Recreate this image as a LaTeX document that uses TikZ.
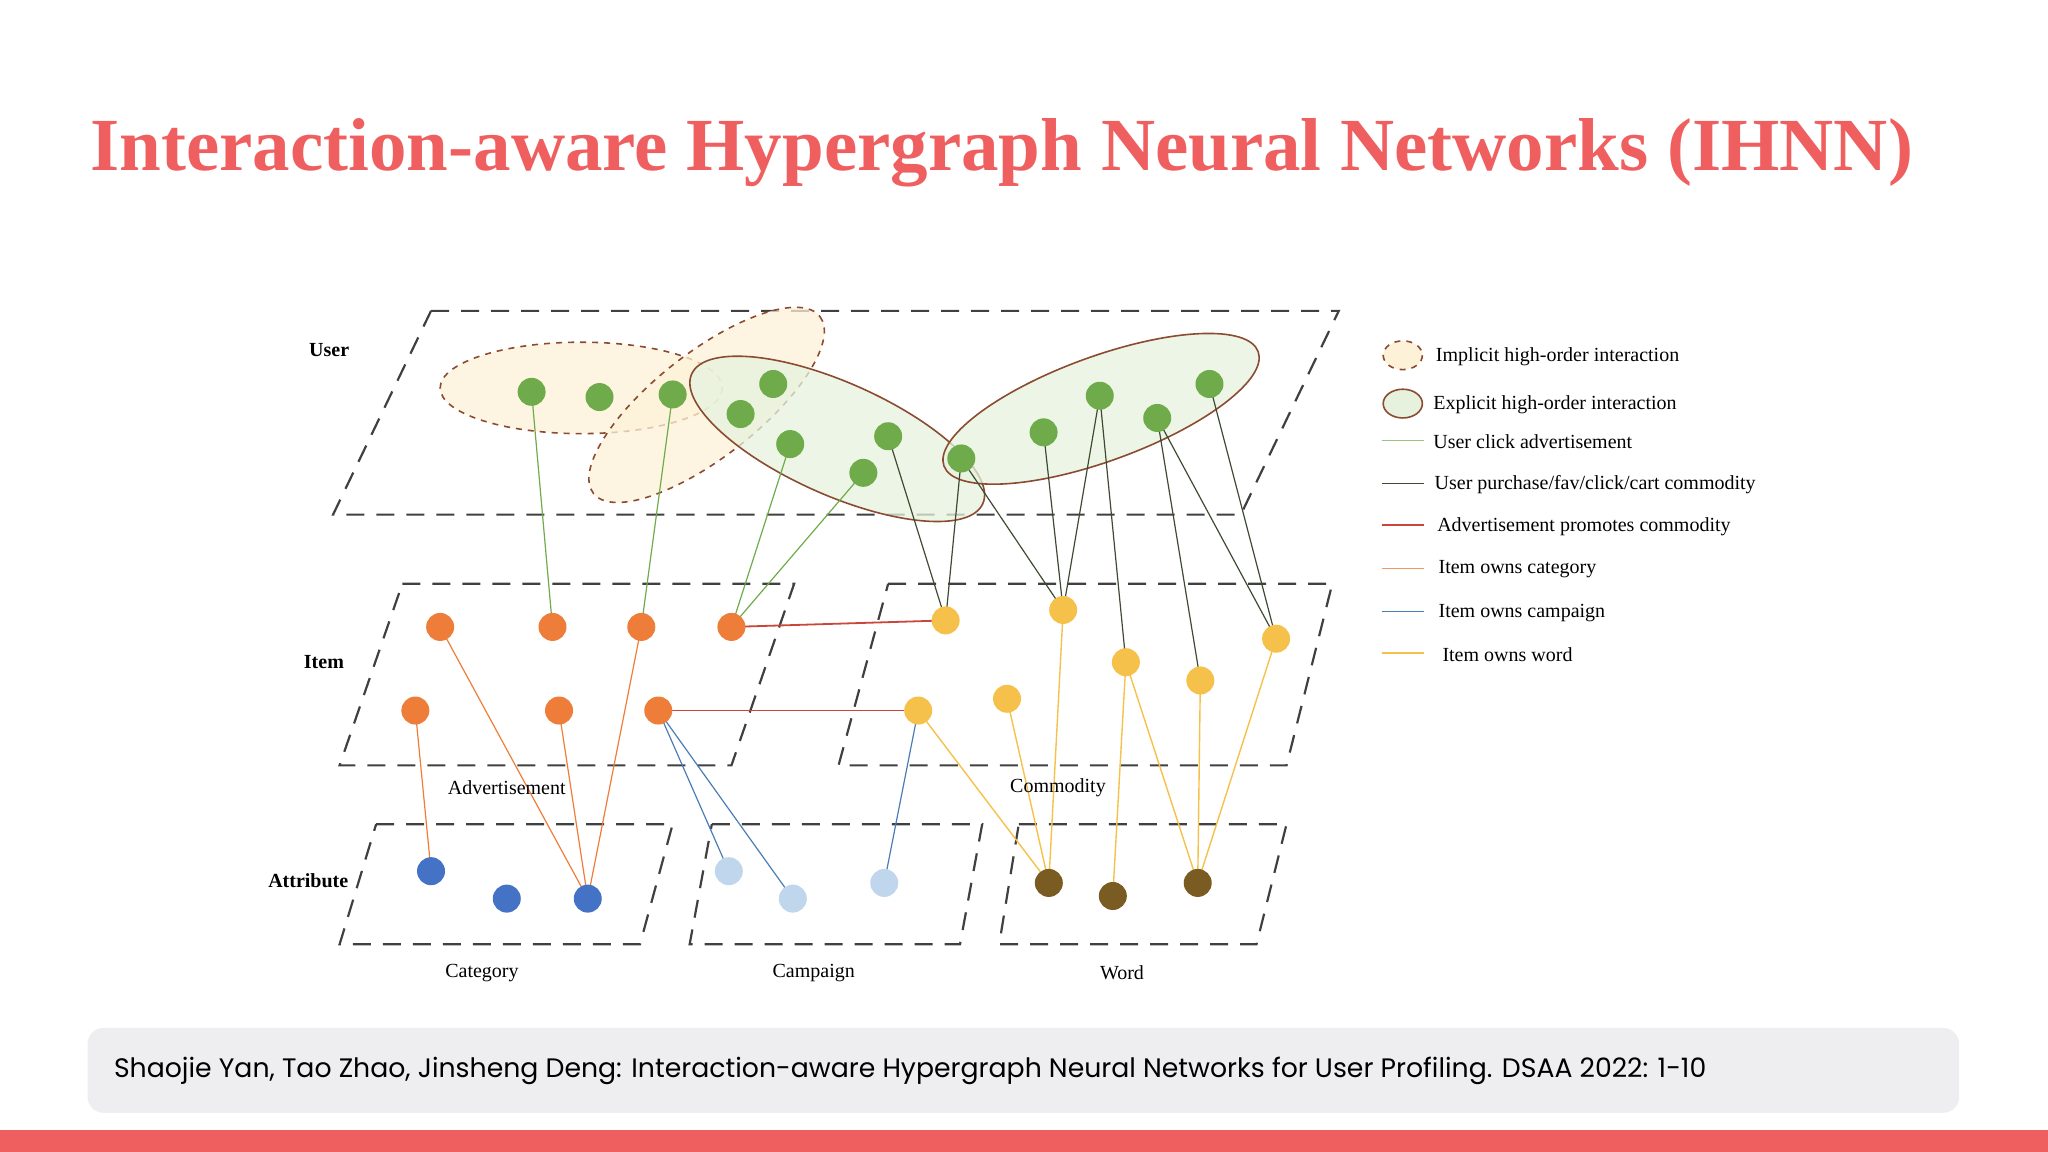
\documentclass[tikz,border=0pt]{standalone}
\usepackage{fontspec}
\setmainfont{Liberation Serif}
\newfontfamily\popp{Poppins}
\usetikzlibrary{shapes.geometric}
\pgfdeclarelayer{back}\pgfdeclarelayer{edges}
\pgfsetlayers{back,edges,main}
\definecolor{coral}{HTML}{F05F5F}
\definecolor{cgreen}{HTML}{6FAB4A}
\definecolor{corange}{HTML}{EE7D3A}
\definecolor{cyellow}{HTML}{F5C14A}
\definecolor{cblue}{HTML}{4472C4}
\definecolor{clblue}{HTML}{BFD6EC}
\definecolor{cbrown}{HTML}{7A5C22}
\definecolor{edkgreen}{HTML}{3E4B32}
\definecolor{ered}{HTML}{C8463A}
\definecolor{eblue}{HTML}{4A7DB5}
\definecolor{impfill}{HTML}{FDF2D8}
\definecolor{expfill}{HTML}{E6F2DE}
\definecolor{hbrown}{HTML}{8A4B30}
\definecolor{footg}{HTML}{EEEDF0}
\tikzset{
 dot/.style={circle,inner sep=0pt,minimum size=14pt},
 gn/.style={dot,fill=cgreen},
 on/.style={dot,fill=corange},
 yn/.style={dot,fill=cyellow},
 bn/.style={dot,fill=cblue},
 lbn/.style={dot,fill=clblue},
 brn/.style={dot,fill=cbrown},
 plane/.style={draw=black!75,line width=1.1pt,dash pattern=on 9pt off 6pt},
 imp/.style={fill=impfill,fill opacity=0.75,draw=hbrown,dashed,line width=0.8pt},
 exp/.style={fill=expfill,fill opacity=0.75,draw=hbrown,line width=0.8pt},
 lg/.style={cgreen,line width=0.6pt},
 dg/.style={edkgreen,line width=0.6pt},
 rd/.style={ered,line width=0.9pt},
 og/.style={corange,line width=0.6pt},
 bl/.style={eblue,line width=0.6pt},
 yl/.style={cyellow,line width=0.7pt},
 lab/.style={font=\fontsize{10}{12}\selectfont},
 blab/.style={font=\fontsize{10}{12}\selectfont\bfseries},
 leg/.style={font=\fontsize{10}{12}\selectfont,anchor=west},
}
\begin{document}
\begin{tikzpicture}[x=0.653pt,y=-0.653pt]
\useasboundingbox (0,0) rectangle (1568,882);
\node[text=coral,font=\bfseries] (title) at (767,117) {\resizebox{911pt}{!}{Interaction-aware Hypergraph Neural Networks (IHNN)}};
\fill[footg,rounded corners=8pt] (67,787) rectangle (1500,852);
\node[anchor=west,inner sep=0pt] (cite) at (87,820) {\popp\resizebox{796pt}{!}{Shaojie Yan, Tao Zhao, Jinsheng Deng: Interaction-aware Hypergraph Neural Networks for User Profiling. DSAA 2022: 1-10}};
\fill[coral] (0,865) rectangle (1568,882);

% planes
\begin{pgfonlayer}{back}
\draw[plane] (330,238) -- (1025,238) -- (950,394) -- (255,394) -- cycle;
\draw[plane] (308,447) -- (608,447) -- (560,586) -- (260,586) -- cycle;
\draw[plane] (680,447) -- (1020,447) -- (985,586) -- (642,586) -- cycle;
\draw[plane] (288,631) -- (515,631) -- (490,723) -- (260,723) -- cycle;
\draw[plane] (545,631) -- (752,631) -- (735,723) -- (528,723) -- cycle;
\draw[plane] (780,631) -- (985,631) -- (962,723) -- (765,723) -- cycle;
\draw[imp] (445,297) ellipse[x radius=108,y radius=35];
\draw[imp,rotate around={38:(541,310)}] (541,310) ellipse[x radius=110,y radius=40];
\draw[exp,rotate around={-24:(641,336)}] (641,336) ellipse[x radius=122,y radius=43];
\draw[exp,rotate around={20:(843,313)}] (843,313) ellipse[x radius=128,y radius=40];
\end{pgfonlayer}

% labels
\node[blab] (luser) at (252,268) {User};
\node[blab] (litem) at (248,507) {Item};
\node[blab] (lattr) at (236,674) {Attribute};
\node[lab] (ladv) at (388,603) {Advertisement};
\node[lab] (lcom) at (810,603) {Commodity};
\node[lab] (lcat) at (369,745) {Category};
\node[lab] (lcam) at (623,745) {Campaign};
\node[lab] (lword) at (859,745) {Word};

% nodes
\node[gn] (g1) at (407,300) {}; \node[gn] (g2) at (459,304) {};
\node[gn] (g3) at (515,302) {}; \node[gn] (g4) at (592,294) {};
\node[gn] (g5) at (567,317) {}; \node[gn] (g6) at (605,340) {};
\node[gn] (g7) at (680,334) {}; \node[gn] (g8) at (661,362) {};
\node[gn] (g9) at (736,351) {}; \node[gn] (g10) at (799,331) {};
\node[gn] (g11) at (842,303) {}; \node[gn] (g12) at (886,320) {};
\node[gn] (g13) at (926,294) {};
\node[on] (o1) at (337,480) {}; \node[on] (o2) at (423,480) {};
\node[on] (o3) at (491,480) {}; \node[on] (o4) at (560,480) {};
\node[on] (o5) at (318,544) {}; \node[on] (o6) at (428,544) {};
\node[on] (o7) at (504,544) {};
\node[yn] (y1) at (724,475) {}; \node[yn] (y2) at (814,467) {};
\node[yn] (y3) at (977,489) {}; \node[yn] (y4) at (862,507) {};
\node[yn] (y5) at (919,521) {}; \node[yn] (y6) at (771,535) {};
\node[yn] (y7) at (703,544) {};
\node[bn] (b1) at (330,667) {}; \node[bn] (b2) at (388,688) {};
\node[bn] (b3) at (450,688) {};
\node[lbn] (c1) at (558,667) {}; \node[lbn] (c2) at (607,688) {};
\node[lbn] (c3) at (677,676) {};
\node[brn] (w1) at (803,676) {}; \node[brn] (w2) at (852,686) {};
\node[brn] (w3) at (917,676) {};

\begin{pgfonlayer}{edges}
\draw[lg] (g1.center) -- (o2.center); \draw[lg] (g3.center) -- (o3.center);
\draw[lg] (g6.center) -- (o4.center); \draw[lg] (g8.center) -- (o4.center);
\draw[dg] (g7.center) -- (y1.center); \draw[dg] (g9.center) -- (y1.center);
\draw[dg] (g9.center) -- (y2.center); \draw[dg] (g10.center) -- (y2.center);
\draw[dg] (g11.center) -- (y2.center); \draw[dg] (g11.center) -- (y4.center);
\draw[dg] (g12.center) -- (y5.center); \draw[dg] (g12.center) -- (y3.center);
\draw[dg] (g13.center) -- (y3.center);
\draw[rd] (o4.center) -- (y1.center); \draw[rd] (o7.center) -- (y7.center);
\draw[og] (o1.center) -- (b3.center); \draw[og] (o3.center) -- (b3.center);
\draw[og] (o6.center) -- (b3.center); \draw[og] (o5.center) -- (b1.center);
\draw[bl] (o7.center) -- (c1.center); \draw[bl] (o7.center) -- (c2.center);
\draw[bl] (y7.center) -- (c3.center);
\draw[yl] (y7.center) -- (w1.center); \draw[yl] (y6.center) -- (w1.center);
\draw[yl] (y2.center) -- (w1.center); \draw[yl] (y4.center) -- (w3.center);
\draw[yl] (y4.center) -- (w2.center); \draw[yl] (y5.center) -- (w3.center);
\draw[yl] (y3.center) -- (w3.center);
\end{pgfonlayer}

% legend
\draw[imp,fill opacity=1] (1074,272) ellipse[x radius=15,y radius=11];
\draw[exp,fill opacity=1] (1074,309) ellipse[x radius=15,y radius=11];
\coordinate (a1) at (1058,337); \coordinate (b1e) at (1090,337);
\coordinate (a2) at (1058,370); \coordinate (b2e) at (1090,370);
\coordinate (a3) at (1058,402); \coordinate (b3e) at (1090,402);
\coordinate (a4) at (1058,435); \coordinate (b4e) at (1090,435);
\coordinate (a5) at (1058,468); \coordinate (b5e) at (1090,468);
\coordinate (a6) at (1058,500); \coordinate (b6e) at (1090,500);
\draw[lg,cgreen!70] (a1) -- (b1e); \draw[dg] (a2) -- (b2e);
\draw[ered,line width=0.6pt] (a3) -- (b3e); \draw[og,corange!80] (a4) -- (b4e);
\draw[bl] (a5) -- (b5e); \draw[yl] (a6) -- (b6e);
\node[leg] (t1) at (1094,273) {Implicit high-order interaction};
\node[leg] (t2) at (1092,310) {Explicit high-order interaction};
\node[leg] (t3) at (1092,338) {User click advertisement};
\node[leg] (t4) at (1093,371) {User purchase/fav/click/cart commodity};
\node[leg] (t5) at (1095,403) {Advertisement promotes commodity};
\node[leg] (t6) at (1096,436) {Item owns category};
\node[leg] (t7) at (1096,469) {Item owns campaign};
\node[leg] (t8) at (1099,501) {Item owns word};
\end{tikzpicture}
\end{document}
